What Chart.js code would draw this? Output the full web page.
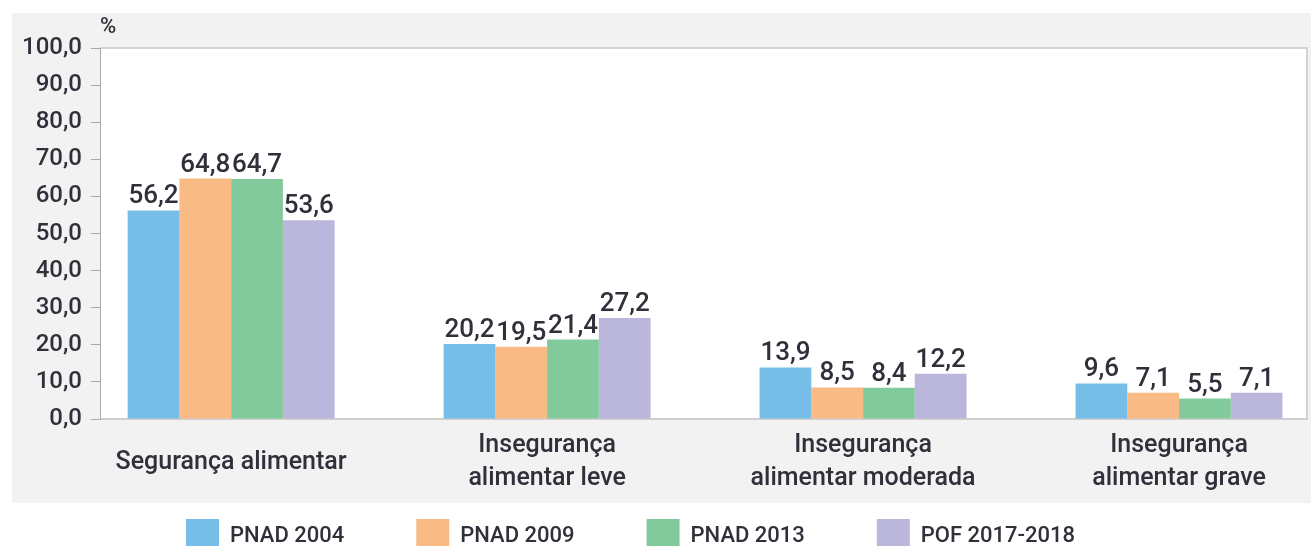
<!DOCTYPE html>
<html lang="pt">
<head>
<meta charset="utf-8">
<title>Segurança alimentar</title>
<script src="https://cdn.jsdelivr.net/npm/chart.js@4/dist/chart.umd.min.js"></script>
<style>
  html, body { margin: 0; padding: 0; background: #fff; }
</style>
</head>
<body>
<canvas id="food-chart" width="1311" height="546"></canvas>
<script>
// categories (multi-line labels) and series
const categories = [
  ['Segurança alimentar'],
  ['Insegurança', 'alimentar leve'],
  ['Insegurança', 'alimentar moderada'],
  ['Insegurança', 'alimentar grave']
];
const seriesNames = ['PNAD 2004', 'PNAD 2009', 'PNAD 2013', 'POF 2017-2018'];
const pnad2004 = [56.2, 20.2, 13.9, 9.6];
const pnad2009 = [64.8, 19.5, 8.5, 7.1];
const pnad2013 = [64.7, 21.4, 8.4, 5.5];
const pof2017 = [53.6, 27.2, 12.2, 7.1];
const yTicks = [0, 10, 20, 30, 40, 50, 60, 70, 80, 90, 100];

const seriesValues = [pnad2004, pnad2009, pnad2013, pof2017];
const seriesColors = ['#76bde8', '#f9ba85', '#82c99b', '#bab6dc'];

const FONT = 'Roboto, "Liberation Sans", sans-serif';
const TEXT = '#30303a';

const fmt = v => v.toFixed(1).replace('.', ',');

// grey frame, white plot, "%" unit and value labels
const decorations = {
  id: 'decorations',
  afterLayout(chart) {
    // legend sits under the grey panel, starting left
    const pad = chart.options.plugins.legend.labels.padding;
    chart.legend.left = 186 - pad;
    chart.legend.top = 519 - pad;
  },
  beforeDraw(chart) {
    const { ctx, chartArea: a } = chart;
    ctx.save();
    ctx.fillStyle = '#f2f2f2';
    ctx.fillRect(12, 13, chart.width - 12, 490);
    ctx.fillStyle = '#ffffff';
    ctx.fillRect(a.left, a.top, a.right - a.left, a.bottom - a.top);
    ctx.strokeStyle = '#d4d4d4';
    ctx.lineWidth = 2;
    ctx.beginPath();
    ctx.moveTo(a.left, a.top);
    ctx.lineTo(a.right, a.top);
    ctx.lineTo(a.right, a.bottom);
    ctx.stroke();
    ctx.fillStyle = TEXT;
    ctx.font = '500 22px ' + FONT;
    ctx.textBaseline = 'alphabetic';
    ctx.fillText('%', a.left, 33);
    ctx.restore();
  },
  afterDatasetsDraw(chart) {
    const ctx = chart.ctx;
    ctx.save();
    ctx.font = '500 26px ' + FONT;
    ctx.fillStyle = TEXT;
    ctx.textAlign = 'center';
    ctx.textBaseline = 'alphabetic';
    chart.data.datasets.forEach((ds, i) => {
      chart.getDatasetMeta(i).data.forEach((bar, j) => {
        ctx.fillText(fmt(ds.data[j].y), bar.x, bar.y - 7);
      });
    });
    ctx.restore();
  }
};

const datasets = seriesNames.map((name, i) => ({
  label: name,
  data: seriesValues[i].map((v, j) => ({ x: j, y: v })),
  backgroundColor: seriesColors[i],
  borderWidth: 0,
  categoryPercentage: 0.655,
  barPercentage: 1.0
}));

new Chart(document.getElementById('food-chart'), {
  type: 'bar',
  data: { datasets },
  plugins: [decorations],
  options: {
    responsive: false,
    animation: false,
    // negative bottom: the legend is moved into place after layout
    layout: { padding: { top: 48, right: 4, left: 0, bottom: -73 } },
    plugins: {
      tooltip: { enabled: false },
      legend: {
        position: 'bottom',
        align: 'start',
        labels: {
          boxWidth: 33,
          boxHeight: 34,
          padding: 72,
          color: TEXT,
          font: { family: FONT, size: 22, weight: '500' }
        }
      }
    },
    scales: {
      x: {
        type: 'linear',
        min: -0.415,
        max: 3.405,
        offset: false,
        grid: { display: false, drawTicks: false },
        border: { color: '#cfcfcf', width: 2 },
        afterBuildTicks: s => { s.ticks = categories.map((c, i) => ({ value: i })); },
        afterFit: s => { s.height = 84; },
        ticks: {
          callback: v => categories[v],
          color: TEXT,
          font: { family: FONT, size: 25, weight: '500', lineHeight: 1.32 },
          padding: 27,
          crossAlign: 'center',
          maxRotation: 0,
          autoSkip: false
        }
      },
      y: {
        min: 0,
        max: 100,
        afterBuildTicks: s => { s.ticks = yTicks.map(v => ({ value: v })); },
        afterFit: s => { s.width = 100; },
        grid: { drawOnChartArea: false, drawTicks: true, tickLength: 9, color: '#aaaaaa' },
        border: { color: '#aaaaaa' },
        ticks: {
          callback: v => fmt(v),
          color: TEXT,
          font: { family: FONT, size: 24, weight: '500' },
          padding: 9
        }
      }
    }
  }
});
</script>
</body>
</html>
